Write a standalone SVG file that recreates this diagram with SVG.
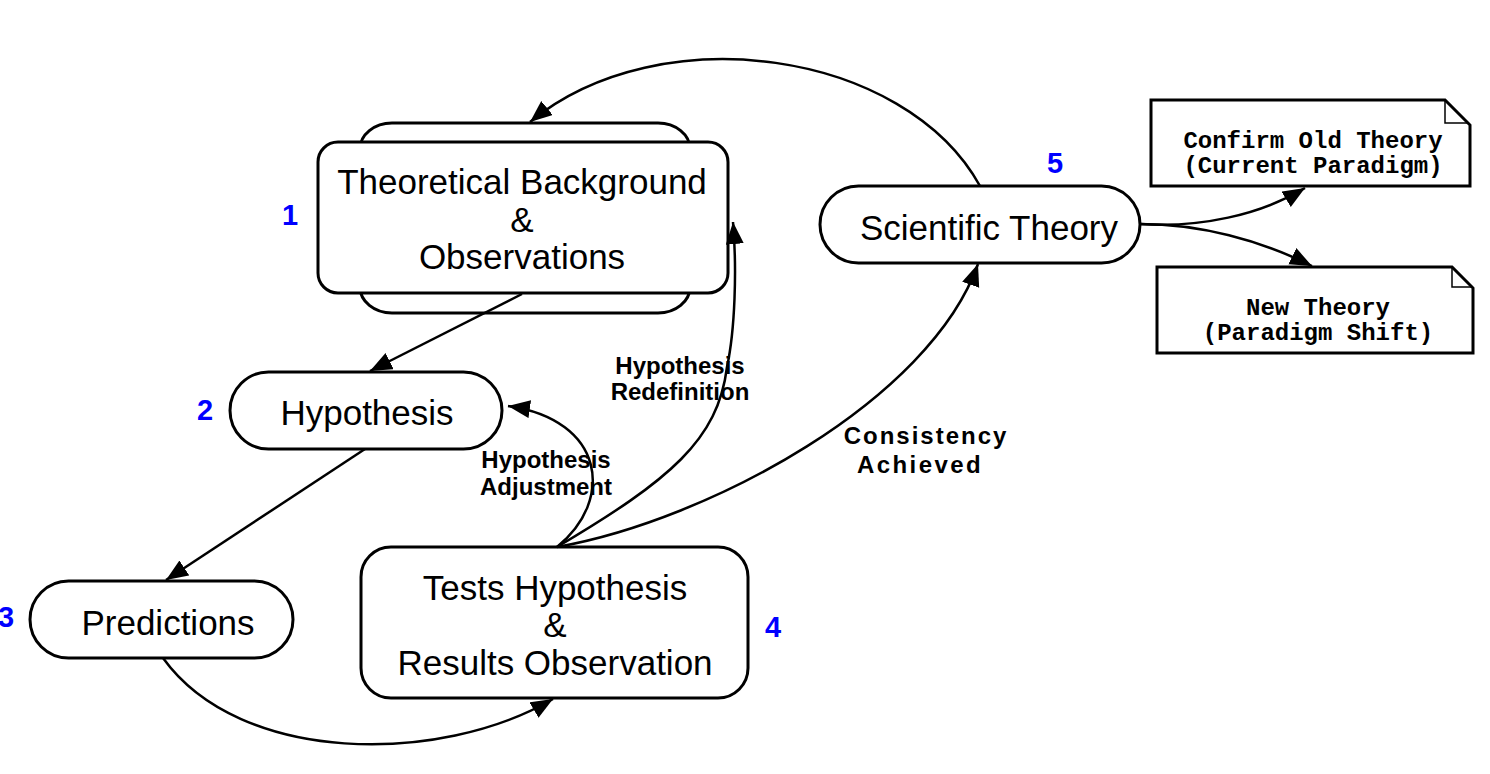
<svg xmlns="http://www.w3.org/2000/svg" width="1490" height="774" viewBox="0 0 1490 774">
<style>
.node{fill:#fff;stroke:#000;stroke-width:3}
.ntext{font-family:"Liberation Sans",Arial,sans-serif;font-size:35px;fill:#000;text-anchor:middle}
.num{font-family:"Liberation Sans",Arial,sans-serif;font-size:29px;font-weight:bold;fill:#0000ff;text-anchor:middle}
.lbl{font-family:"Liberation Sans",Arial,sans-serif;font-size:24px;font-weight:bold;fill:#000;text-anchor:middle}
.note{fill:#fff;stroke:#000;stroke-width:3}
.fold{fill:none;stroke:#000;stroke-width:1.5}
.mono{font-family:"Liberation Mono","Courier New",monospace;font-size:24px;font-weight:bold;fill:#000;text-anchor:middle}
.edge{fill:none;stroke:#000;stroke-width:2.5;marker-end:url(#arr)}
</style>
<defs>
<marker id="arr" markerUnits="userSpaceOnUse" markerWidth="24" markerHeight="20" refX="22" refY="9" orient="auto">
<path d="M0,0 L22,9 L0,18 z" fill="#000"/>
</marker>
</defs>
<rect width="1490" height="774" fill="#fff"/>

<g id="theoretical">
<rect class="node" x="360" y="123" width="330" height="190" rx="32" ry="26"/>
<rect class="node" x="318" y="142" width="410" height="151" rx="20"/>
<text class="ntext" x="522" y="194">Theoretical Background</text>
<text class="ntext" x="522" y="232">&amp;</text>
<text class="ntext" x="522" y="269">Observations</text>
<text class="num" x="290" y="225">1</text>
</g>

<g id="hypothesis">
<rect class="node" x="230" y="372" width="272" height="77" rx="38.5"/>
<text class="ntext" x="367" y="425">Hypothesis</text>
<text class="num" x="205" y="420">2</text>
</g>

<g id="predictions">
<rect class="node" x="30" y="581" width="263" height="77" rx="38.5"/>
<text class="ntext" x="168" y="635">Predictions</text>
<text class="num" x="6" y="627">3</text>
</g>

<g id="tests">
<rect class="node" x="361" y="547" width="387" height="151" rx="30"/>
<text class="ntext" x="555" y="600">Tests Hypothesis</text>
<text class="ntext" x="555" y="637">&amp;</text>
<text class="ntext" x="555" y="675">Results Observation</text>
<text class="num" x="773" y="637">4</text>
</g>

<g id="scientific">
<rect class="node" x="820" y="186" width="320" height="77" rx="38.5"/>
<text class="ntext" x="989" y="240">Scientific Theory</text>
<text class="num" x="1055" y="173">5</text>
</g>

<g id="confirm">
<path class="note" d="M1151,100 H1445 L1470,125 V186 H1151 Z"/>
<path class="fold" d="M1445,100 V123 H1469"/>
<text class="mono" x="1313" y="148">Confirm Old Theory</text>
<text class="mono" x="1313" y="173">(Current Paradigm)</text>
</g>

<g id="newtheory">
<path class="note" d="M1157,267 H1452 L1473,288 V353 H1157 Z"/>
<path class="fold" d="M1452,267 V287 H1472"/>
<text class="mono" x="1318" y="315">New Theory</text>
<text class="mono" x="1318" y="340">(Paradigm Shift)</text>
</g>

<g id="connectors">
<path class="edge" d="M522,294 L370,371"/>
<path class="edge" d="M365,449 L166,580"/>
<path class="edge" d="M163,658 C240,765 440,765 553,699"/>
<path class="edge" d="M557,547 C615,500 605,420 508,406"/>
<path class="edge" d="M557,547 C670,480 718,440 727,367 C735,330 737,270 733,222"/>
<path class="edge" d="M557,547 C710,520 930,400 978,264"/>
<path class="edge" d="M980,186 C905,50 660,15 530,122"/>
<path class="edge" d="M1140,224 C1200,228 1260,215 1305,188"/>
<path class="edge" d="M1140,224 C1200,224 1260,240 1312,266"/>
<text class="lbl" x="680" y="374">Hypothesis</text>
<text class="lbl" x="680" y="400">Redefinition</text>
<text class="lbl" x="546" y="468">Hypothesis</text>
<text class="lbl" x="546" y="495">Adjustment</text>
<text class="lbl" x="926" y="444" letter-spacing="2">Consistency</text>
<text class="lbl" x="920" y="473" letter-spacing="2.4">Achieved</text>
</g>
</svg>
